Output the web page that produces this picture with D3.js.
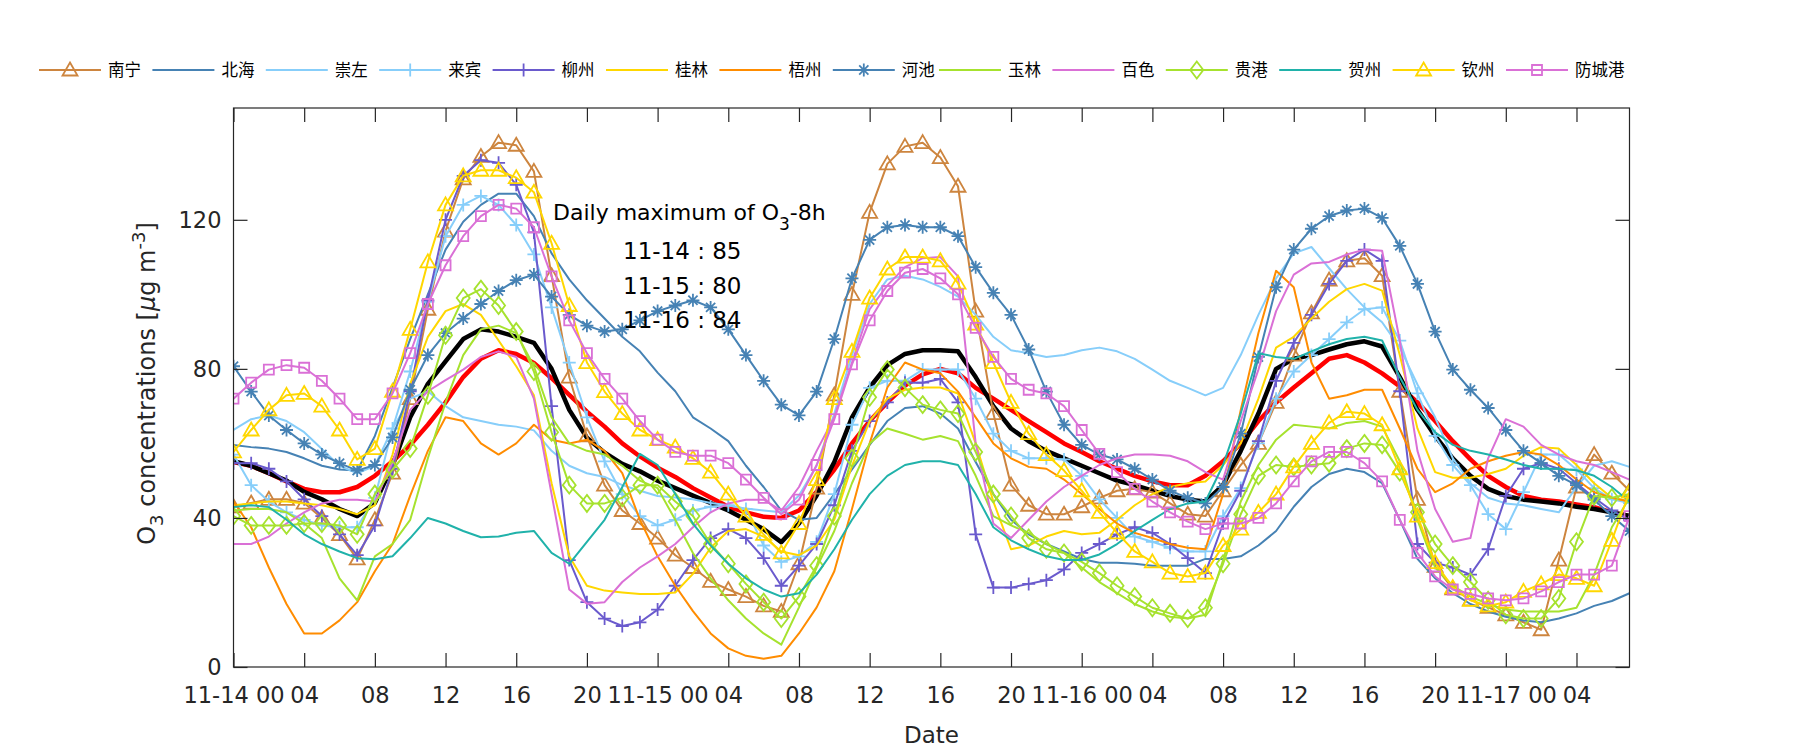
<!DOCTYPE html>
<html>
<head>
<meta charset="utf-8">
<script src="https://cdn.jsdelivr.net/npm/d3@7"></script>
<style>
  html, body { margin: 0; padding: 0; background: #fff; }
  svg { display: block; }
</style>
</head>
<body>
<script>
// ---------------- DATA ----------------
const stationNames = ["南宁","北海","崇左","来宾","柳州","桂林","梧州","河池","玉林","百色","贵港","贺州","钦州","防城港"];
const xTickHours = [0,4,8,12,16,20,24,28,32,36,40,44,48,52,56,60,64,68,72,76];
const xTickLabels = ["11-14 00","04","08","12","16","20","11-15 00","04","08","12","16","20","11-16 00","04","08","12","16","20","11-17 00","04"];
const yTicks = [0,40,80,120];
const annotLines = ["11-14 : 85","11-15 : 80","11-16 : 84"];

const nanning = [43,44,45,45,44,40,35.5,29,39.5,52,72,96,117,131,137,140.7,140,133,105,77.8,62,
 48.8,42,38.5,34.6,30,26.7,23,20.8,18.9,16.4,14.9,27.7,48,73,100,122,135,139.7,140.7,136.7,
 129,95.5,68,48.8,43.4,41,41,43,45.4,47.3,47.8,46.9,43.9,41,40.5,47.3,54.2,60,71,83.7,
 95,103.8,109,109.7,105,74,45,27,21,18,16,14,12,10,28.7,48.3,57,52,47.3];
const beihai = [59.6,59,58.6,57.7,56,54,53,52.7,62,75,88,100,112,119.5,124,127,127,121,111,104,98.4,
 93.5,88.6,84.7,79,74,67,64,60.6,54,48.3,42,39.5,40,46.4,53,59.6,66,69.5,70,68,
 64,55,46.4,39.5,35.6,33,31,29,28,28,27.7,27.2,27.2,27.2,29,29,29.7,32.6,36.5,43,
 48.3,51.8,53.2,52.3,49.3,39.5,29,23.8,19.8,16.9,14.9,13.5,12.5,12,13,14.4,16.4,17.7,19.8];
const chongzuo = [63.6,66.5,67.5,66,63,58.5,54,52,54,64,72,74,70,67,66,65,64.5,63.5,58,54,52,
 51,48.8,47.3,45.9,45.5,45,44,43.4,42.5,42,41.5,46,54,68,83.7,97.4,104,105,104,102,
 99.4,94.5,88.6,85,84.2,83.2,83.7,85,85.7,84.7,82.7,79.8,76.8,74.9,72.9,74.9,83.7,94.5,104.3,111,
 112.7,107,101.4,96.5,92.5,85.7,75.8,67,56,49.3,45.4,43.9,43.4,42.4,41.5,48.3,54,55.2,53.7];
const laibin = [57,48.8,44.4,41.5,39.5,38,37.5,37.5,45.4,64,79.3,98,115.6,124,126.4,124,118.6,110.7,96.5,81.7,67,
 55.2,46.4,40.5,38,39.5,42,43,43.4,42.4,32.6,28.2,29.7,33.6,46.4,65,74.9,76.8,76.8,79.8,79.8,
 79.8,72,62.6,58,56,56,55.7,51.3,45,40,35,33.6,32,31,31,40.5,48,60,72,79.3,
 83.7,88,92.5,96,96.5,87.6,73.4,62,54.2,48.8,41,37,46.9,57,57,53,48,45,44];
const liuzhou = [54.7,54.7,53.2,49.8,45,40.5,35.6,30,38,53.2,74,98.4,120,131.8,136,135.3,129.4,116.6,70,28.7,17.4,
 13,11,12,15.4,21.8,28.7,34.6,37,34.6,29.2,21.8,27.2,33,43.4,58,66,71,76.3,76.3,77.3,
 71,35.6,21.3,21.3,22.3,23.3,26.2,30.6,33,35.6,37.5,36,33,29.2,25.2,38.5,47.3,60.6,76.8,87,
 94.5,102.8,109,112,109,74,33,28,26.7,24.8,31.6,45.9,53.2,54.7,53.2,49.3,45.4,42,39.5];
const guilin = [43.4,43.9,44.4,44.4,43.9,43.4,42.4,41,43.4,57,76,88.6,95.5,97.4,94.5,87.6,80.7,72.9,49.3,29.7,21.8,
 20.5,20,19.6,19.6,20,25,32,36.5,37,35,31,30,32.6,39.5,54,66,72,74.4,75,75,
 73.4,60,44.4,31.6,32.6,35,36.5,35.6,36,39.5,43.4,46.4,48.3,49.3,49.8,54.2,60,72,85.7,88.6,
 93.5,98,101.4,102.8,101,83.7,64,52.3,50.8,50.8,51.8,53.2,56.7,59,58.6,54.2,49.3,45.4,44.4];
const wuzhou = [44.4,37.5,26.7,16.9,9,9,12.5,17.4,25.7,33,46,58,67,66,60,57,60,65,61,60,61,
 58,52,39.5,29.7,21.8,15,9,5,3,2.2,3,9,16,25.7,42.4,60,75,81.7,79.8,78.8,
 73.9,67,60,56,53.7,53.2,50.3,46.4,42.4,38.5,36,34.6,33,32,31.6,46.4,69,89.6,106.3,101.9,
 81.7,72,72.9,74.4,74.4,64,53.2,46.9,49.3,53.2,55.2,56.7,57.7,57,54.2,50.3,46.9,45.4,44.4];
const hechi = [80.7,73.9,67.5,63.6,60,57,54.7,52.7,54.2,61.6,74.4,83.7,89.6,93.5,97.4,100.9,103.8,105.3,99.4,94.5,91.6,
 90,90.6,93,95.5,97,98.4,96.5,90.6,83.7,76.8,70.4,67.5,73.9,88,104.3,114.6,118,118.6,118,118,
 115.6,107.3,100.4,94.5,85.2,73.9,65,59.6,57,55.7,53.2,50.3,47.3,45.4,43.9,48.3,62.6,83.2,101.9,112,
 117.6,121,122.5,123,120.5,113,102.8,90,79.8,74.4,69.5,63.6,58,54.7,51.3,48.8,44.9,40.5,36.5];
const yulin = [42,42.4,42.4,41.5,38.5,34.6,23.8,17.9,29.7,33,39.5,56,71,83.7,90.6,91.6,89.6,80.7,67,60,58,
 57,54,50,48,39.5,30.6,23.8,17.9,13,9,6,16,26.7,36.5,49.3,60,64,62.6,61,62,
 60.6,51.3,40.5,38,36,33,30.6,26.7,22.8,19.8,16.9,14.9,13.5,13,14,28.7,44.4,54.2,61,65,
 64.5,64,65.5,66,64.5,55.2,39.5,26.7,21.8,18.9,16.9,15.4,14.9,14.9,14.9,15.9,24.8,37.5,45.4];
const baise = [33,33,35,38.5,41.5,43.9,44.9,44.9,44.4,55,69,74,77,79.8,83.2,84.7,83.2,72,46.4,20.8,17,
 17.4,22.8,26.7,29.7,33,37.5,41.5,43.9,44.9,44.9,42,48.3,58,67,81.7,96,102.4,107.3,109.7,110,
 104.8,60,38.5,34.6,39.5,44.4,48.3,51.3,54.2,56,57,57,56.7,55.2,52.3,50.3,66,79.8,95.5,105.3,
 108.3,108.7,110.7,112,111.7,87.6,58,42.4,33.6,34.6,56,66.5,64.5,59.6,57,55.2,54.2,52.3,50.3];
const guigang = [40.5,38,38,38,38.5,38.5,38,35.6,46.4,53,58.6,72.9,89,99,101.4,97,90,79.3,63,48.8,43.9,
 43.9,45.4,48.8,48.8,44.4,40.5,33,27.7,22.3,17.4,13,18.9,27.2,40.5,56,72.4,79.8,74.9,70.4,69,
 68,57.7,46.4,40.5,34.6,31.6,30.6,28.2,25.2,21.8,18.9,15.9,14.4,13,15.9,27.7,41,51.3,54.2,53.7,
 54.2,54.7,58.6,60,59.6,52.3,41.5,33,27.2,22.8,17.9,14,13,13,18.4,33.6,45.9,45.4,46.4];
const hezhou = [42.9,43.4,42.9,39.5,35.6,33,31,29.2,28.9,29.7,34.6,40,38.5,36.5,34.8,35,36,36.5,30.6,27.7,33.6,
 39.5,48.3,57.2,54.2,46.4,38.5,32.6,27.7,23.8,20.8,18.9,19.8,24.8,31.6,39.5,46.4,51.3,54.2,55.2,55.2,
 54.2,46.4,37.5,34,31.6,29.7,28.7,28.7,30.2,33,36.5,39.5,42.4,43.9,44.4,54.2,68,84.2,83.2,82.7,
 84.7,86.6,88,88.6,87.6,77.8,69,63,59.6,58,57,55.7,54.2,53.2,53.2,52.8,51.3,48.3,44.4];
const qinzhou = [57.7,63.6,69,72.9,73.4,70,63.6,55.7,58.6,74,90.6,108.7,124,131.8,133.3,133.3,131.3,127.4,113.7,97,81.7,
 73.9,68,63.6,61,59,56,52.3,46.4,40.5,35.6,30.6,38.5,50.3,72,84.7,99,106.8,110,110,109,
 103,92,81.7,71,62.6,57,52.7,47.3,41.5,36,31,28.2,25.2,24.3,25.2,32.6,37,41.5,46.4,53.7,
 60,65.5,68.5,68,65,53.2,40.5,28,21.3,17.9,16.4,17.4,20.3,22.3,24.8,23.8,21.8,34,46.9];
const fangchenggang = [72,76.3,79.8,81,80.3,76.8,72,66.5,66.5,73.4,84.2,97.4,107.8,115.6,121,124,123,118,104.8,93,84.2,
 77.3,72,66,61,57.7,56.7,56.7,54.7,50.3,45.4,41,44.9,54.2,66.5,81.2,93,100.9,105.8,106.8,104.3,
 100,91,83.2,77.3,74.4,73.4,70,63.6,57.2,52.3,47.8,44.4,41.5,39,37,38.5,38.5,40,43.9,49.8,
 55.2,57.7,57.7,54.7,49.8,39.5,30.6,24.3,20.8,19.6,18.4,17.9,18.4,20.3,22.8,24.8,24.8,27.2,40.5];
const meanO3 = [55.2,54,52,50,47,45,42.4,40.5,44,54,67,76,82,88,90.6,90,88.6,87,80,69,61.5,
 57.5,54.5,52.5,50,48,46,44,42,39.5,37,33.5,38.5,46,55,67,75,81,84,85,85,
 84.7,77.8,70,64,60.6,58,56,54,52,50,48.8,47.3,45.9,44.9,44.4,48.8,58,68,80,82.7,
 83.7,85.2,86.6,87.4,86,77.8,69,62,56,51.3,47.8,45.9,44.9,44.4,43.9,43,42.4,41.5,40.5];
const smoothO3 = [55,54,52,49.8,47.8,46.9,46.9,48.3,51.3,55.2,59.6,65,71,77.8,82.7,85,84,81.6,77.5,73,68.5,
 64.5,60,56.5,53.5,51,48,45.5,43,41.5,40.3,40,42,47,53,60,66,71,75.5,78.5,80,
 78.8,74.9,72,69,66,63,60,57.7,55.2,53.2,51.3,49.8,48.8,48.8,51.3,55.2,60,66,71,75,
 78.8,82.7,83.7,81.7,78.8,75.3,71,66,60.6,55.7,51.3,48.3,45.9,44.9,44.4,43.6,42.9,41.5,40.5];

const stationValues = [nanning,beihai,chongzuo,laibin,liuzhou,guilin,wuzhou,hechi,yulin,baise,guigang,hezhou,qinzhou,fangchenggang];
const stationColors = ["#CD853F","#4682B4","#87CEFA","#87CEFA","#6A5ACD","#FFD700","#FF8C00","#4682B4","#A6E22E","#DA70D6","#A6E22E","#20B2AA","#FFD700","#DA70D6"];
const stationMarkers = ["tri","none","none","plus","plus","none","none","star","none","none","dia","none","tri","sq"];

// ---------------- LAYOUT ----------------
const W = 1800, H = 750;
const plot = {left: 233.5, right: 1629.5, top: 108, bottom: 667};
const txtColor = "#262626";
const numFont = "'DejaVu Sans', sans-serif";
const cjkFont = "'Noto Sans CJK SC', sans-serif";

const svg = d3.select("body").append("svg").attr("width", W).attr("height", H);

const x = d3.scaleLinear().domain([0, 79]).range([plot.left, plot.right]);
const y = d3.scaleLinear().domain([0, 150]).range([plot.bottom, plot.top]);

function markerPath(type) {
  switch (type) {
    case "tri": return "M0,-7.5L7.5,5.5L-7.5,5.5Z";
    case "sq": return "M-5,-5H5V5H-5Z";
    case "dia": return "M0,-8.5L6.5,0L0,8.5L-6.5,0Z";
    case "plus": return "M-6.5,0H6.5M0,-6.5V6.5";
    case "star": return "M-6.5,0H6.5M0,-6.5V6.5M-4.6,-4.6L4.6,4.6M-4.6,4.6L4.6,-4.6";
  }
  return null;
}

svg.append("defs").append("clipPath").attr("id","clip")
  .append("rect").attr("x", plot.left).attr("y", plot.top)
  .attr("width", plot.right - plot.left).attr("height", plot.bottom - plot.top);

const gData = svg.append("g").attr("clip-path","url(#clip)");
const line = d3.line().x((d,i) => x(i)).y(d => y(d));

gData.append("path").datum(smoothO3).attr("d", line)
  .attr("fill","none").attr("stroke","#FF0000").attr("stroke-width",4.5).attr("stroke-linejoin","round");
gData.append("path").datum(meanO3).attr("d", line)
  .attr("fill","none").attr("stroke","#000000").attr("stroke-width",4.5).attr("stroke-linejoin","round");

stationNames.forEach((name, k) => {
  const vals = stationValues[k];
  const col = stationColors[k];
  const g = gData.append("g");
  g.append("path").datum(vals).attr("d", line)
    .attr("fill","none").attr("stroke", col).attr("stroke-width", 2).attr("stroke-linejoin","round");
  const mp = markerPath(stationMarkers[k]);
  if (mp) {
    g.selectAll("path.m").data(vals).join("path").attr("class","m")
      .attr("d", mp)
      .attr("transform", (d,i) => `translate(${x(i)},${y(d)})`)
      .attr("fill","none").attr("stroke", col).attr("stroke-width", 1.8);
  }
});

svg.append("rect").attr("x", plot.left).attr("y", plot.top)
  .attr("width", plot.right - plot.left).attr("height", plot.bottom - plot.top)
  .attr("fill","none").attr("stroke", txtColor).attr("stroke-width", 1.2);

const tickLen = 14;
const xAxis = d3.axisBottom(x).tickValues(xTickHours)
  .tickFormat((d,i) => xTickLabels[i]).tickSizeInner(-tickLen).tickSizeOuter(0).tickPadding(20);
const gx = svg.append("g").attr("transform", `translate(0,${plot.bottom})`).call(xAxis);
gx.select(".domain").remove();
gx.selectAll("line").attr("stroke", txtColor).attr("stroke-width", 1.2);
gx.selectAll("text").attr("font-family", numFont).attr("font-size", 22.5).attr("fill", txtColor);

const xAxisTop = d3.axisTop(x).tickValues(xTickHours).tickFormat("").tickSizeInner(-tickLen).tickSizeOuter(0);
const gxt = svg.append("g").attr("transform", `translate(0,${plot.top})`).call(xAxisTop);
gxt.select(".domain").remove();
gxt.selectAll("line").attr("stroke", txtColor).attr("stroke-width", 1.2);

const yAxis = d3.axisLeft(y).tickValues(yTicks).tickSizeInner(-tickLen).tickSizeOuter(0).tickPadding(12);
const gy = svg.append("g").attr("transform", `translate(${plot.left},0)`).call(yAxis);
gy.select(".domain").remove();
gy.selectAll("line").attr("stroke", txtColor).attr("stroke-width", 1.2);
gy.selectAll("text").attr("font-family", numFont).attr("font-size", 22.5).attr("fill", txtColor);

const yAxisR = d3.axisRight(y).tickValues(yTicks).tickFormat("").tickSizeInner(-tickLen).tickSizeOuter(0);
const gyr = svg.append("g").attr("transform", `translate(${plot.right},0)`).call(yAxisR);
gyr.select(".domain").remove();
gyr.selectAll("line").attr("stroke", txtColor).attr("stroke-width", 1.2);

svg.append("text").attr("x", (plot.left + plot.right)/2).attr("y", 743)
  .attr("text-anchor","middle").attr("font-family", numFont).attr("font-size", 23)
  .attr("fill", txtColor).text("Date");

const yl = svg.append("text")
  .attr("transform", `translate(155,${(plot.top + plot.bottom)/2 - 4}) rotate(-90)`)
  .attr("text-anchor","middle").attr("font-family", numFont).attr("font-size", 24).attr("fill", txtColor);
yl.append("tspan").text("O");
yl.append("tspan").attr("dy", 8).attr("font-size", 18).text("3");
yl.append("tspan").attr("dy", -8).text(" concentrations [");
yl.append("tspan").attr("font-style","italic").text("μ");
yl.append("tspan").text("g m");
yl.append("tspan").attr("dy", -10).attr("font-size", 18).text("-3");
yl.append("tspan").attr("dy", 10).text("]");

const an = svg.append("text").attr("x", 553).attr("y", 219.5)
  .attr("font-family", numFont).attr("font-size", 22).attr("fill", "#000");
an.append("tspan").text("Daily maximum of O");
an.append("tspan").attr("dy", 10).attr("font-size", 17).text("3");
an.append("tspan").attr("dy", -10).text("-8h");
annotLines.forEach((t, i) => {
  svg.append("text").attr("x", 623).attr("y", 259 + i*34.7)
    .attr("font-family", numFont).attr("font-size", 23).attr("fill", "#000").text(t);
});

const legY = 70;
stationNames.forEach((name, k) => {
  const x0 = k < 8 ? 39 + 113.4*k : 939 + 113.4*(k-8);
  const g = svg.append("g");
  const col = stationColors[k];
  g.append("line").attr("x1", x0).attr("x2", x0 + 62).attr("y1", legY).attr("y2", legY)
    .attr("stroke", col).attr("stroke-width", 2);
  const mp = markerPath(stationMarkers[k]);
  if (mp) g.append("path").attr("d", mp).attr("transform", `translate(${x0+31},${legY})`)
    .attr("fill","none").attr("stroke", col).attr("stroke-width", 1.8);
  g.append("text").attr("x", x0 + 69).attr("y", legY + 6)
    .attr("font-family", cjkFont).attr("font-size", 16.5).attr("fill", "#000").text(name);
});
</script>
</body>
</html>
